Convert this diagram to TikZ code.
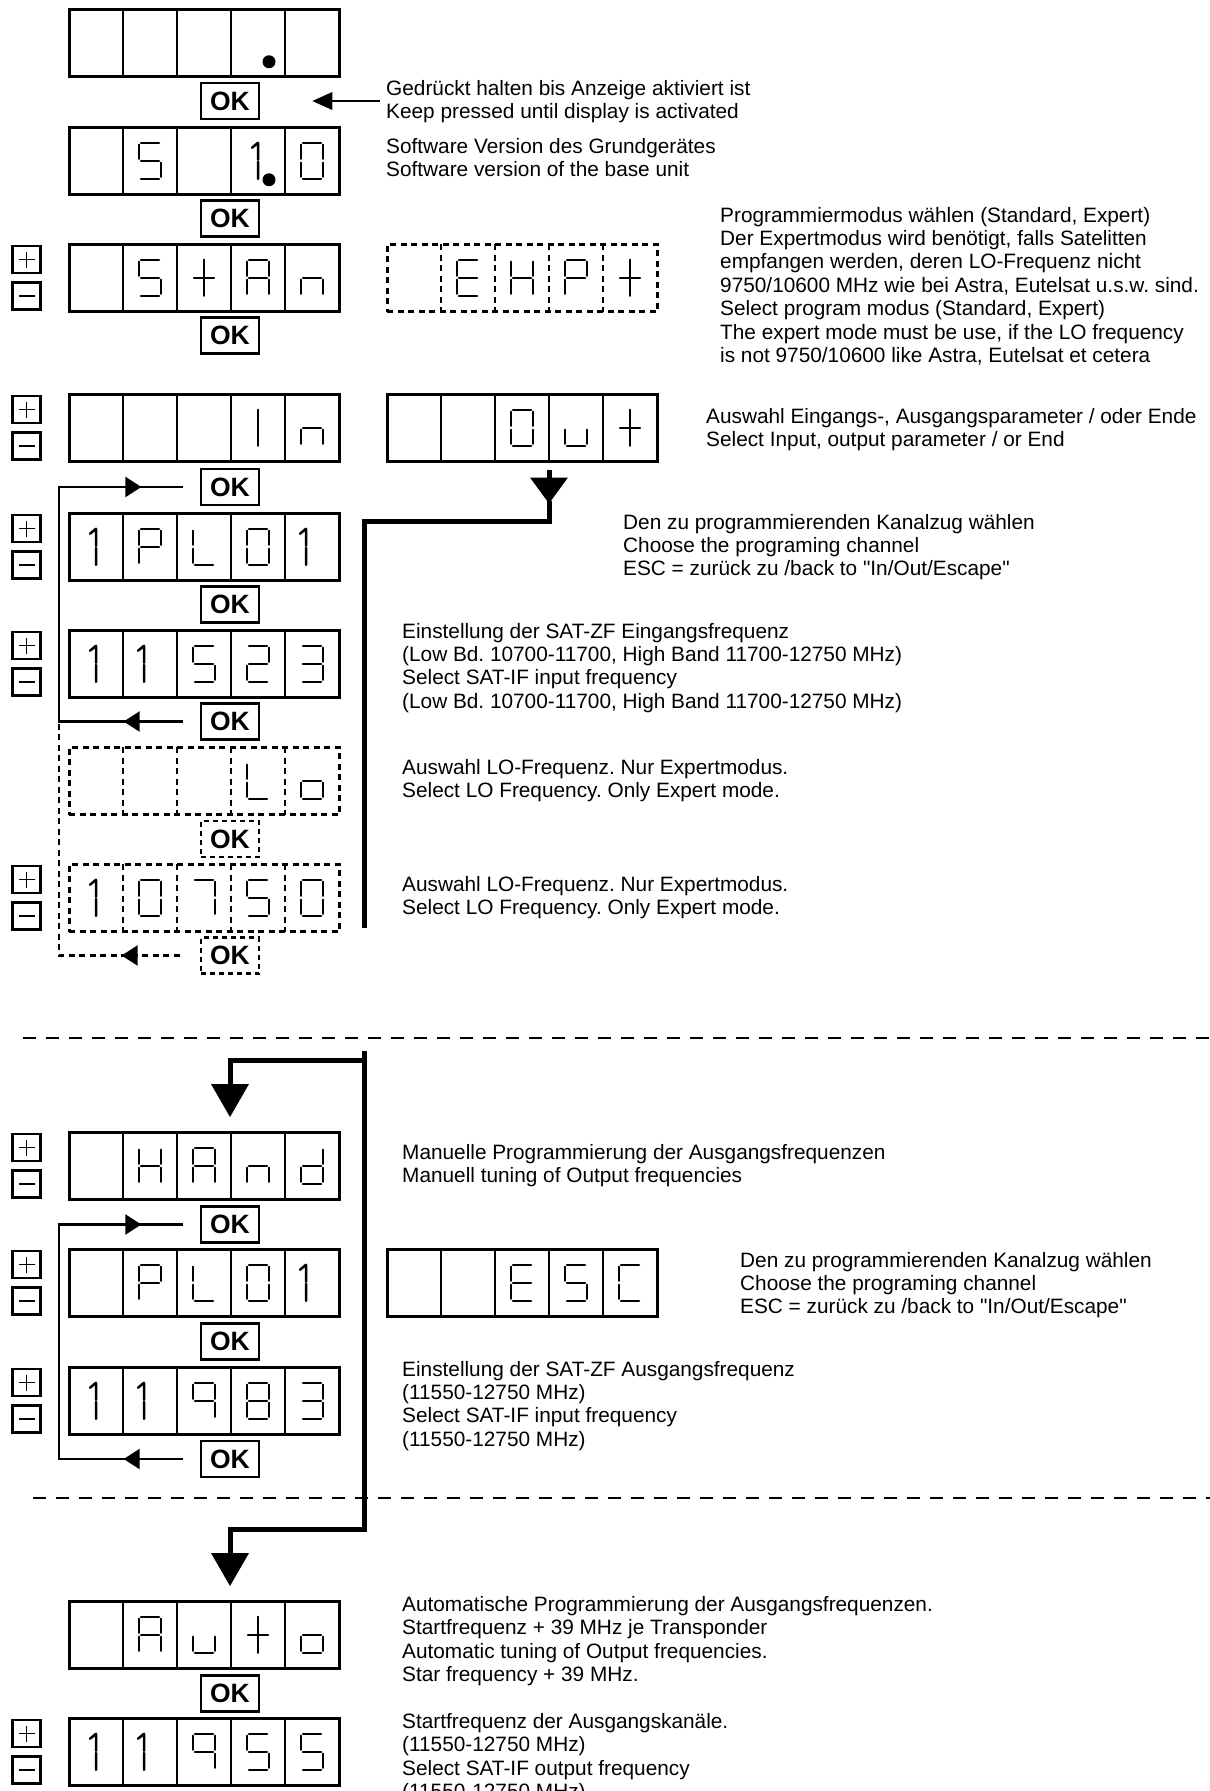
\documentclass[tikz,border=0pt]{standalone}
\usepackage{fontspec}
\setmainfont{Liberation Sans}
\newfontfamily\plaintxt{Liberation Sans}
\usetikzlibrary{arrows.meta,decorations.markings,calc}
\frenchspacing

% seven-segment pieces (glyph centred at origin, y downwards)
\def\svsa{\draw[segline] (-9,-18)--(9,-18);}
\def\svsb{\draw[segline] (11,-16)--(11,-2);}
\def\svsc{\draw[segline] (11,2)--(11,16);}
\def\svsd{\draw[segline] (-9,18)--(9,18);}
\def\svse{\draw[segline] (-11,2)--(-11,16);}
\def\svsf{\draw[segline] (-11,-16)--(-11,-2);}
\def\svsg{\draw[segline] (-9,0)--(9,0);}
\def\svsv{\draw[segline] (0,-18)--(0,18);}
\def\svsh{\draw[segline] (-10,0)--(10,0);}
\def\svsone{\draw[segline] (-6,-18)--(-6,-1) (-6,1)--(-6,18) (-6,-18)--(-12,-13);}
\def\svsonec{\draw[segline] (0,-18)--(0,-1) (0,1)--(0,18) (0,-18)--(-6,-13);}
\def\svsdot{\fill (11,19) circle (6.5pt);}

\newcommand\lcdglyph[3]{%
  \begin{scope}[shift={(#1,#2)}]
    \foreach \sg in {#3}{\csname svs\sg\endcsname}
  \end{scope}}

% name, x, y, style, five cells
\newcommand\lcddisp[9]{%
  \node[disp#4, anchor=north west] (#1) at (#2,#3) {};
  \foreach \i in {1,2,3,4}{\draw[disp#4div] ({#2+54*\i},#3) -- ({#2+54*\i},{#3+67.5});}
  \lcdglyph{#2+27}{#3+33.75}{#5}
  \lcdglyph{#2+81}{#3+33.75}{#6}
  \lcdglyph{#2+135}{#3+33.75}{#7}
  \lcdglyph{#2+189}{#3+33.75}{#8}
  \lcdglyph{#2+243}{#3+33.75}{#9}}

% plus / minus keys: name, top, bottom
\newcommand\lcdkeys[3]{%
  \node[pmbox] (#1plus) at (26.5,#2+15.5) {};
  \node[pmbox] (#1minus) at (26.5,#3-15.5) {};
  \draw[signline] ([xshift=-8pt]#1plus.center) -- ([xshift=8pt]#1plus.center);
  \draw[signline] ([yshift=-8pt]#1plus.center) -- ([yshift=8pt]#1plus.center);
  \draw[signline] ([xshift=-8pt]#1minus.center) -- ([xshift=8pt]#1minus.center);}

\begin{document}
\begin{tikzpicture}[x=1pt,y=-1pt,
  segline/.style={line width=2.5pt, line cap=round},
  dispsolid/.style={draw, line width=3pt, minimum width=270pt, minimum height=67.5pt, inner sep=0pt, outer sep=0pt},
  dispdash/.style={dispsolid, dash pattern=on 6pt off 4.5pt},
  dispsoliddiv/.style={line width=2.3pt},
  dispdashdiv/.style={line width=2.3pt, dash pattern=on 6pt off 4.5pt},
  okbox/.style={draw, line width=2.7pt, minimum width=58pt, minimum height=36pt, inner sep=0pt, font=\fontsize{26.5pt}{26.5pt}\selectfont\bfseries},
  okdash/.style={okbox, dash pattern=on 5pt off 4pt},
  pmbox/.style={draw, line width=2.5pt, minimum width=28pt, minimum height=27pt, inner sep=0pt},
  signline/.style={line width=1.8pt},
  txt/.style={anchor=north west, inner sep=0pt, align=left, font=\plaintxt\fontsize{20.8pt}{23.4pt}\selectfont},
  loopline/.style={line width=2.2pt},
  loopdash/.style={line width=2.2pt, dash pattern=on 6pt off 4.5pt},
  flowline/.style={line width=5pt},
  sepline/.style={line width=2.6pt, dash pattern=on 13pt off 10pt},
  smalltip/.style={-{Triangle[length=20pt,width=18pt,line width=0pt]}},
  bigtip/.style={-{Triangle[length=#1,width=38pt,line width=0pt]}},
]
\useasboundingbox (0,0) rectangle (1210,1791);

% ---------- displays ----------
\lcddisp{d1}{69}{9}{solid}{}{}{}{dot}{}
\lcddisp{d2}{69}{127}{solid}{}{a,f,g,c,d}{}{onec,dot}{a,b,c,d,e,f}
\lcddisp{d3}{69}{244}{solid}{}{a,f,g,c,d}{v,h}{a,b,c,e,f,g}{e,g,c}
\lcddisp{r1}{387}{244}{dash}{}{a,f,g,e,d}{f,b,g,e,c}{a,b,f,g,e}{v,h}
\lcddisp{d4}{69}{394}{solid}{}{}{}{v}{e,g,c}
\lcddisp{r2}{387}{394}{solid}{}{}{a,b,c,d,e,f}{e,d,c}{v,h}
\lcddisp{d5}{69}{513}{solid}{onec}{a,b,f,g,e}{f,e,d}{a,b,c,d,e,f}{one}
\lcddisp{d6}{69}{630}{solid}{onec}{one}{a,f,g,c,d}{a,b,g,e,d}{a,b,g,c,d}
\lcddisp{d7}{69}{747}{dash}{}{}{}{f,e,d}{g,c,d,e}
\lcddisp{d8}{69}{864}{dash}{onec}{a,b,c,d,e,f}{a,b,c}{a,f,g,c,d}{a,b,c,d,e,f}
\lcddisp{d9}{69}{1132}{solid}{}{f,b,g,e,c}{a,b,c,e,f,g}{e,g,c}{b,c,d,e,g}
\lcddisp{d10}{69}{1249}{solid}{}{a,b,f,g,e}{f,e,d}{a,b,c,d,e,f}{one}
\lcddisp{r3}{387}{1249}{solid}{}{}{a,f,g,e,d}{a,f,g,c,d}{a,f,e,d}
\lcddisp{d11}{69}{1367}{solid}{onec}{one}{a,b,c,f,g}{a,b,c,d,e,f,g}{a,b,g,c,d}
\lcddisp{d12}{69}{1601}{solid}{}{a,b,c,e,f,g}{e,d,c}{v,h}{g,c,d,e}
\lcddisp{d13}{69}{1718}{solid}{onec}{one}{a,b,c,f,g}{a,f,g,c,d}{a,f,g,c,d}

% ---------- +/- keys ----------
\lcdkeys{k3}{244}{311.5}
\lcdkeys{k4}{394}{461.5}
\lcdkeys{k5}{513}{580.5}
\lcdkeys{k6}{630}{697.5}
\lcdkeys{k8}{864}{931.5}
\lcdkeys{k9}{1132}{1199.5}
\lcdkeys{k10}{1249}{1316.5}
\lcdkeys{k11}{1367}{1434.5}
\lcdkeys{k13}{1718}{1785.5}

% ---------- OK keys ----------
\node[okbox] (ok1) at (230,101) {OK};
\node[okbox] (ok2) at (230,218.5) {OK};
\node[okbox] (ok3) at (230,335.5) {OK};
\node[okbox] (ok4) at (230,487) {OK};
\node[okbox] (ok5) at (230,604.5) {OK};
\node[okbox] (ok6) at (230,721.5) {OK};
\node[okdash] (ok7) at (230,839) {OK};
\node[okdash] (ok8) at (230,955.5) {OK};
\node[okbox] (ok9) at (230,1224.5) {OK};
\node[okbox] (ok10) at (230,1341.5) {OK};
\node[okbox] (ok11) at (230,1459) {OK};
\node[okbox] (ok12) at (230,1693.5) {OK};

% ---------- texts ----------
\node[txt] (tA) at (386,95-16.4) {\strut Gedrückt halten bis Anzeige aktiviert ist\\Keep pressed until display is activated};
\node[txt] (tB) at (386,153-16.4) {\strut Software Version des Grundgerätes\\Software version of the base unit};
\node[txt] (tC) at (720,222-16.4) {\strut Programmiermodus wählen (Standard, Expert)\\Der Expertmodus wird benötigt, falls Satelitten\\empfangen werden, deren LO-Frequenz nicht\\9750/10600 MHz wie bei Astra, Eutelsat u.s.w. sind.\\Select program modus (Standard, Expert)\\The expert mode must be use, if the LO frequency\\is not 9750/10600 like Astra, Eutelsat et cetera};
\node[txt] (tD) at (706,423-16.4) {\strut Auswahl Eingangs-, Ausgangsparameter / oder Ende\\Select Input, output parameter / or End};
\node[txt] (tE) at (623,529-16.4) {\strut Den zu programmierenden Kanalzug wählen\\Choose the programing channel\\ESC = zurück zu /back to "In/Out/Escape"};
\node[txt] (tF) at (402,638-16.4) {\strut Einstellung der SAT-ZF Eingangsfrequenz\\(Low Bd. 10700-11700, High Band 11700-12750 MHz)\\Select SAT-IF input frequency\\(Low Bd. 10700-11700, High Band 11700-12750 MHz)};
\node[txt] (tG) at (402,774-16.4) {\strut Auswahl LO-Frequenz. Nur Expertmodus.\\Select LO Frequency. Only Expert mode.};
\node[txt] (tH) at (402,891-16.4) {\strut Auswahl LO-Frequenz. Nur Expertmodus.\\Select LO Frequency. Only Expert mode.};
\node[txt] (tI) at (402,1159-16.4) {\strut Manuelle Programmierung der Ausgangsfrequenzen\\Manuell tuning of Output frequencies};
\node[txt] (tJ) at (740,1267-16.4) {\strut Den zu programmierenden Kanalzug wählen\\Choose the programing channel\\ESC = zurück zu /back to "In/Out/Escape"};
\node[txt] (tK) at (402,1376-16.4) {\strut Einstellung der SAT-ZF Ausgangsfrequenz\\(11550-12750 MHz)\\Select SAT-IF input frequency\\(11550-12750 MHz)};
\node[txt] (tL) at (402,1611-16.4) {\strut Automatische Programmierung der Ausgangsfrequenzen.\\Startfrequenz + 39 MHz je Transponder\\Automatic tuning of Output frequencies.\\Star frequency + 39 MHz.\\\strut\\Startfrequenz der Ausgangskanäle.\\(11550-12750 MHz)\\Select SAT-IF output frequency\\(11550-12750 MHz)};

% ---------- key-press arrow ----------
\draw[line width=2.5pt, smalltip] ($(tA.west |- ok1.east)+(-6,0)$) -- ([xshift=52pt]ok1.east);

% ---------- loops ----------
\coordinate (loopx) at (59,0);
\draw[loopline, postaction={decorate, decoration={markings,
    mark=at position 59pt with {\arrow{Triangle[length=16pt,width=20pt]}},
    mark=at position 440.5pt with {\arrow{Triangle[length=16pt,width=20pt]}}}}]
  ([xshift=-17pt]ok6.west) -- (ok6.west -| loopx) -- (ok4.west -| loopx) -- ([xshift=-17pt]ok4.west);
\draw[loopdash, postaction={decorate, decoration={markings,
    mark=at position 58pt with {\arrow{Triangle[length=16pt,width=20pt]}}}}]
  ([xshift=-20pt]ok8.west) -- (ok8.west -| loopx) -- (ok6.west -| loopx);
\draw[loopline, postaction={decorate, decoration={markings,
    mark=at position 59pt with {\arrow{Triangle[length=16pt,width=20pt]}},
    mark=at position 440.5pt with {\arrow{Triangle[length=16pt,width=20pt]}}}}]
  ([xshift=-17pt]ok11.west) -- (ok11.west -| loopx) -- (ok9.west -| loopx) -- ([xshift=-17pt]ok9.west);

% ---------- main flow lines ----------
\coordinate (outarrow) at ($(r2.south west)+(162,8)$);
\coordinate (p1top) at (364,521);
\coordinate (p1end) at (364,928);
\draw[flowline, bigtip=26pt] (outarrow) -- ++(0,34);
\draw[flowline] ($(outarrow)+(0,31)$) |- (p1top) -- (p1end);

\coordinate (p2top) at (364,1051);
\coordinate (p2bot) at (364,1529);
\draw[flowline, bigtip=33pt] (p2top) -- (p2bot) -| ([xshift=26pt,yshift=15pt]d12.north);
\draw[flowline, bigtip=33pt] ($(p2top)+(0,9)$) -| ([xshift=26pt,yshift=15pt]d9.north);

% ---------- separators ----------
\coordinate (s1a) at (23,1038);
\coordinate (s1b) at (1215,1038);
\coordinate (s2a) at (33,1498);
\coordinate (s2b) at (1215,1498);
\draw[sepline] (s1a) -- (s1b);
\draw[sepline] (s2a) -- (s2b);
\end{tikzpicture}
\end{document}
